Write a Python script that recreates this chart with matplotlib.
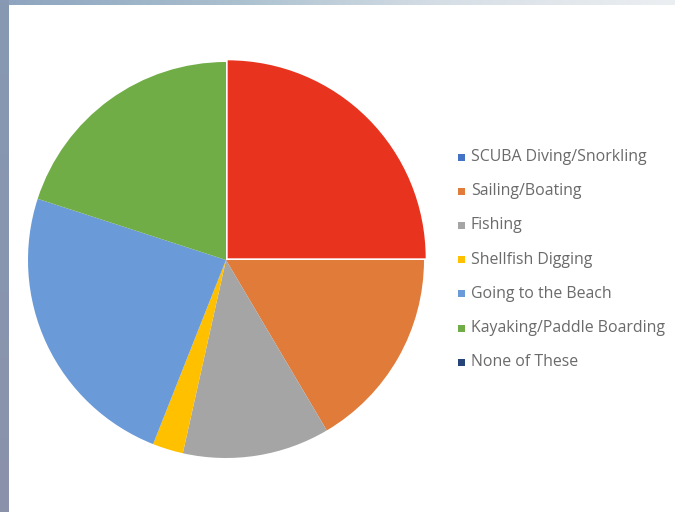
import numpy as np
import matplotlib.pyplot as plt
from matplotlib.colors import LinearSegmentedColormap
from matplotlib.patches import Rectangle

# survey: which water activities people take part in (percent)
activities = ['SCUBA Diving/Snorkling', 'Sailing/Boating', 'Fishing',
              'Shellfish Digging', 'Going to the Beach',
              'Kayaking/Paddle Boarding', 'None of These']
shares = [25.0, 16.5, 12.0, 2.5, 24.0, 20.0, 0.0]
slice_colors = ['#E8341F', '#E07B39', '#A5A5A5', '#FFC000', '#6A9AD8', '#70AD47', '#264478']
key_colors = ['#4472C4', '#E07B39', '#A5A5A5', '#FFC000', '#6A9AD8', '#70AD47', '#264478']

W, H = 675, 512
fig = plt.figure(figsize=(W / 100, H / 100), dpi=100)
fig.patch.set_facecolor('white')

# slide frame: blue-grey strip down the left, lighter strip along the top
bg = fig.add_axes([0, 0, 1, 1])
bg.axis('off')
top = np.linspace(0, 1, 256)[None, :]
bg.imshow(top, extent=(0, W, 5, 0), aspect='auto',
          cmap=LinearSegmentedColormap.from_list('top', ['#8ea4bf', '#a9bfce', '#d7dfe6', '#eceff2']))
left = np.linspace(0, 1, 256)[:, None]
bg.imshow(left, extent=(0, 9, H, 0), aspect='auto',
          cmap=LinearSegmentedColormap.from_list('left', ['#8799b4', '#8a92aa']))
bg.set_xlim(0, W)
bg.set_ylim(H, 0)

# pie: centre (226, 260) px, radius 198 px
cx, cy, r = 226, 260, 198
ax = fig.add_axes([(cx - r) / W, (H - cy - r) / H, 2 * r / W, 2 * r / H])
explode = [0.012, 0, 0, 0, 0, 0, 0]
ax.pie(shares, colors=slice_colors, startangle=90, counterclock=False,
       explode=explode, wedgeprops=dict(linewidth=0))
ax.set_xlim(-1, 1)
ax.set_ylim(-1, 1)
ax.set_aspect('auto')
ax.axis('off')

# legend keys
rows_y = 157
step = 34.2
for i, (name, col) in enumerate(zip(activities, key_colors)):
    y = rows_y + i * step
    bg.add_patch(Rectangle((458, y - 3.5), 7, 7, color=col, lw=0))
    bg.text(471, y, name, fontsize=11.4, color='#6a6a6a', family='Open Sans',
            va='center', ha='left')

fig.savefig('out.png', dpi=100)
